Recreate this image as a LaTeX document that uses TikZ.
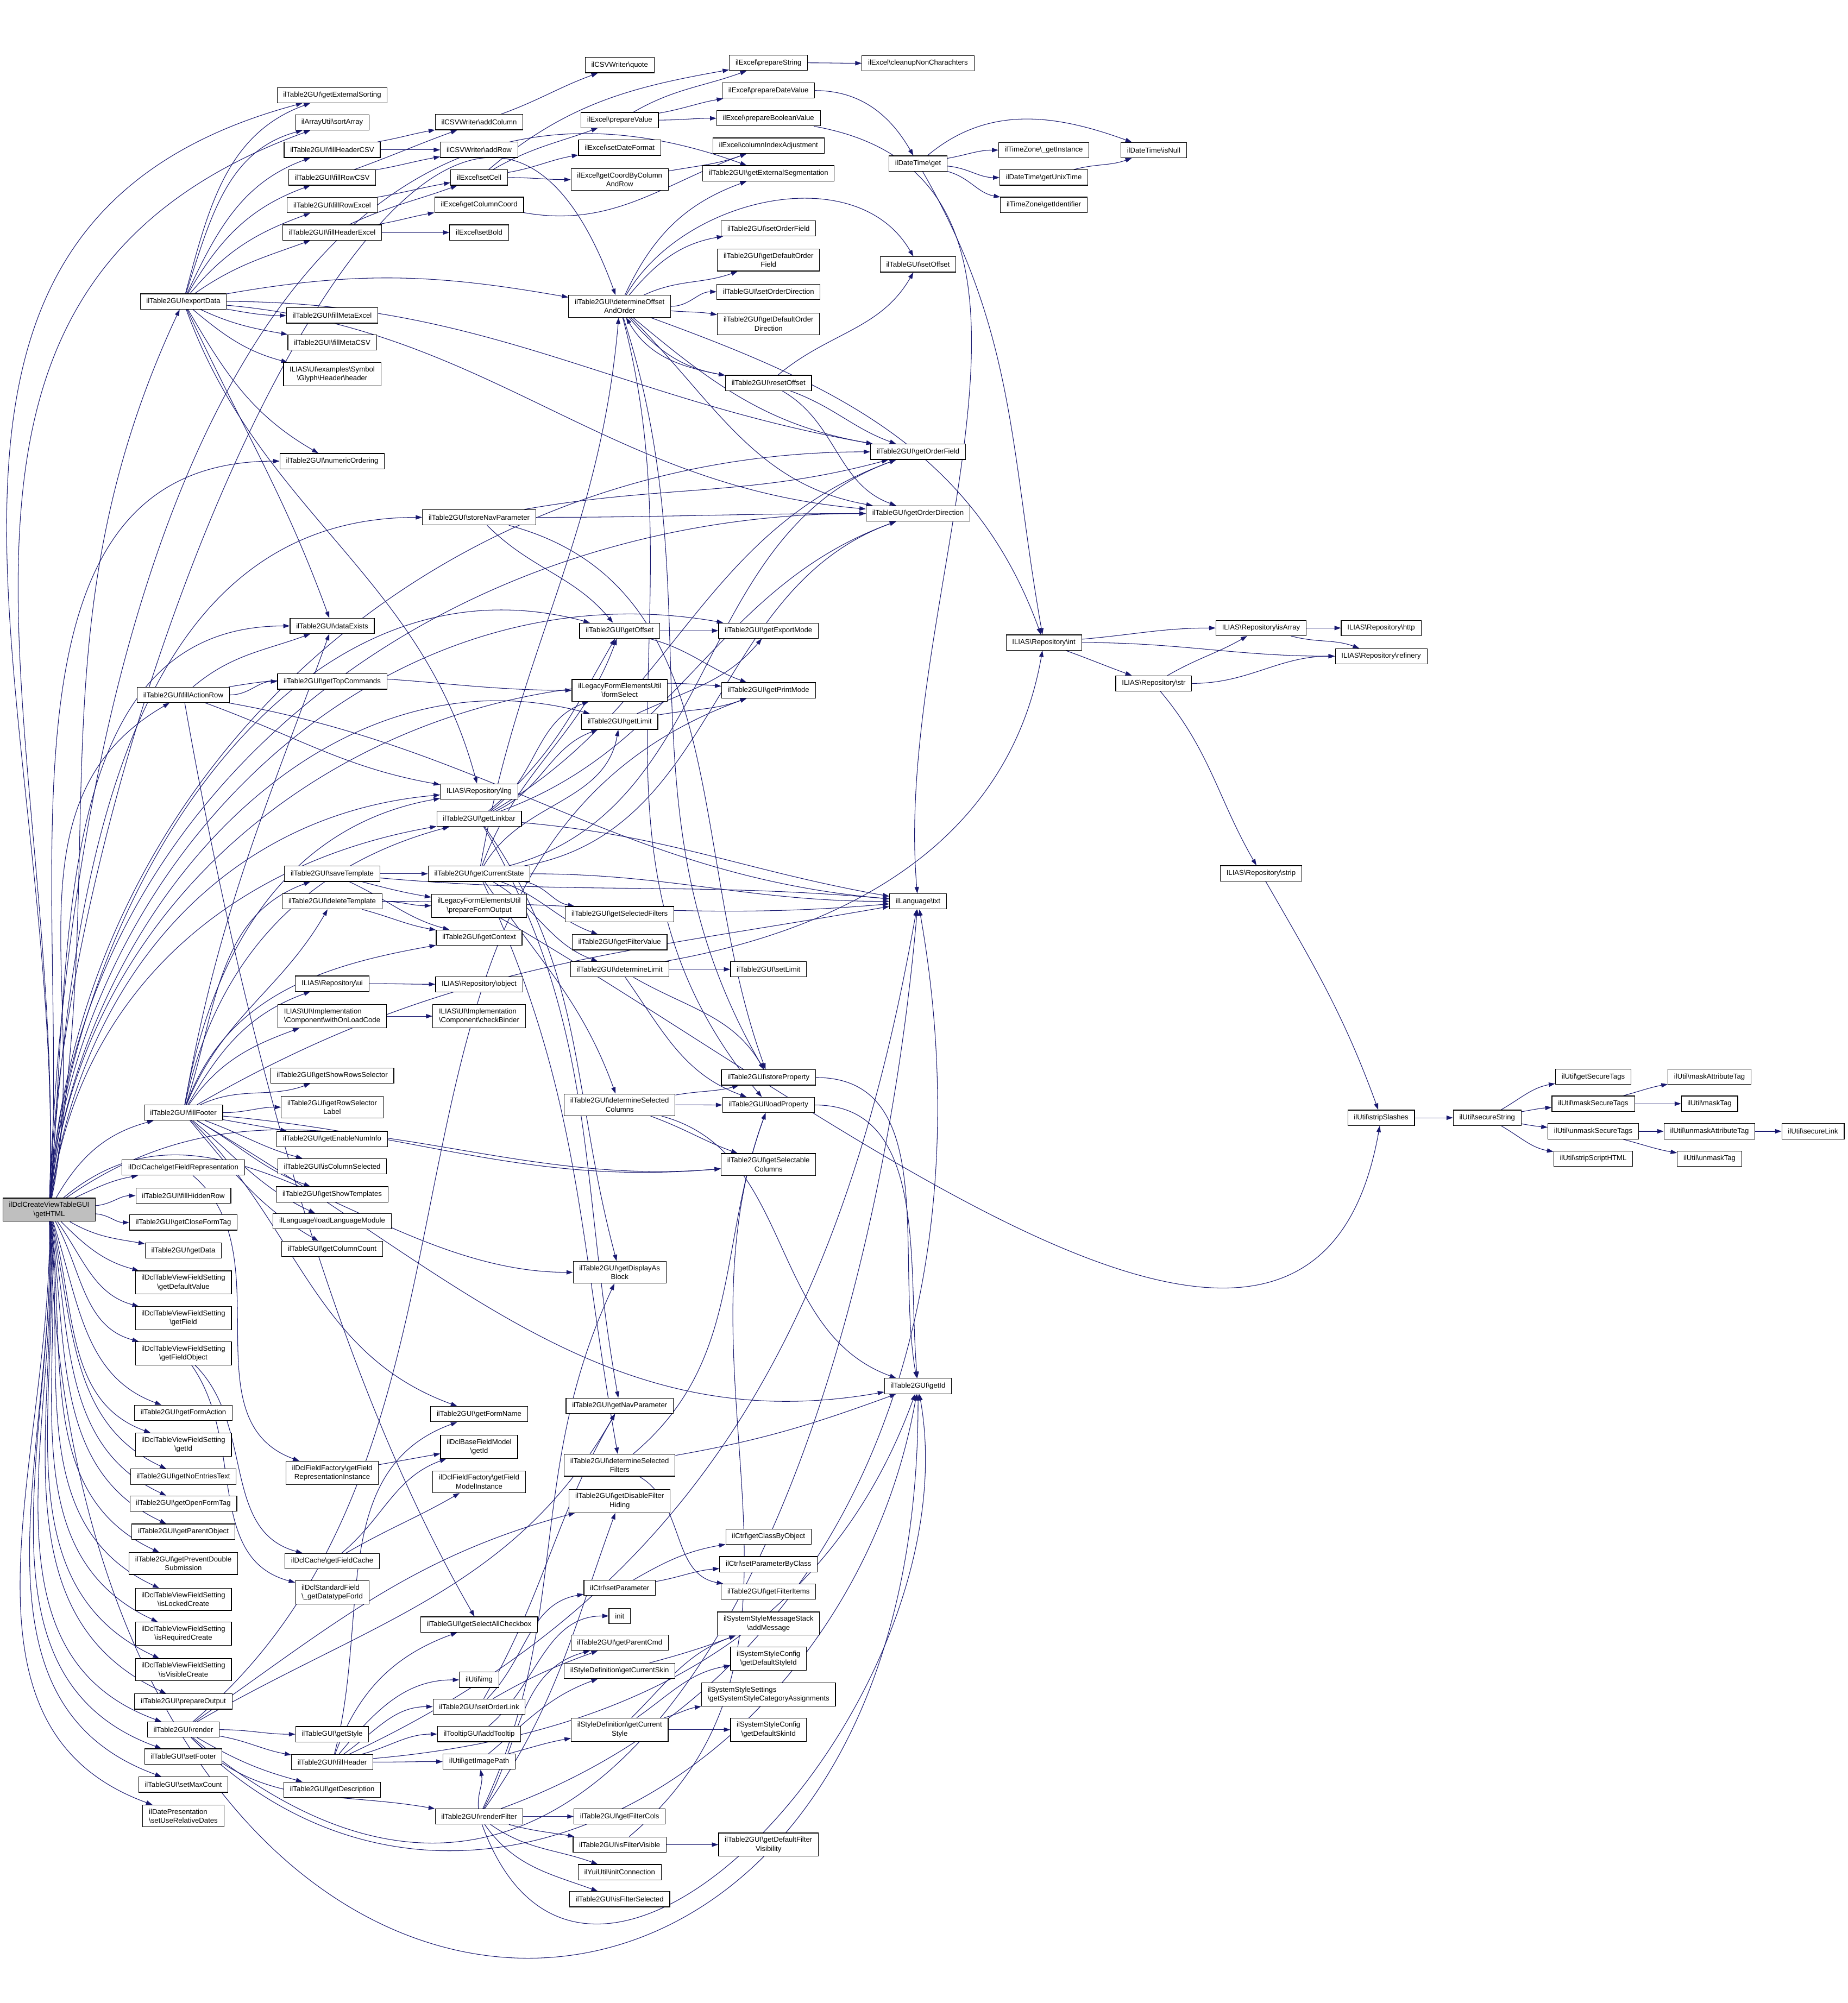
\documentclass[tikz,border=0pt]{standalone}
\usepackage{fontspec}
\setmainfont{Liberation Sans}
\usetikzlibrary{arrows.meta}
\pgfdeclarelayer{background}
\pgfsetlayers{background,main}
\definecolor{linkblue}{HTML}{191970}
\newcommand{\nsep}{\textbackslash}
\tikzset{
  fn/.style={draw=black, line width=0.5pt, fill=white, inner xsep=4.8pt, inner ysep=3pt,
    minimum height=12pt, align=center, font=\fontsize{5.6}{7}\selectfont},
  fnleft/.style={fn, align=left},
  mainfn/.style={fn, fill=black!25},
  calls/.style={draw=linkblue, line width=0.45pt, -{Triangle[length=5pt,width=3.4pt]}, out=0, in=180},
}

\begin{document}
\begin{tikzpicture}[x=1pt, y=1pt]
  \useasboundingbox (0,0) rectangle (1446,-1568);
  % caller
  \node[mainfn] (G) at (38.5,-947) {ilDclCreateViewTableGUI\\\nsep getHTML};
  % first rank
  \node[fn] (expD) at (143.5,-236) {ilTable2GUI\nsep exportData};
  \node[fn] (fAR) at (143.5,-544) {ilTable2GUI\nsep fillActionRow};
  \node[fn] (fFoot) at (143.5,-871) {ilTable2GUI\nsep fillFooter};
  \node[fn] (gFRep) at (143.5,-914) {ilDclCache\nsep getFieldRepresentation};
  \node[fn] (fHid) at (143.5,-936) {ilTable2GUI\nsep fillHiddenRow};
  \node[fn] (gClose) at (143.5,-957) {ilTable2GUI\nsep getCloseFormTag};
  \node[fn] (gData) at (143.5,-979) {ilTable2GUI\nsep getData};
  \node[fn] (gDefV) at (143.5,-1004) {ilDclTableViewFieldSetting\\\nsep getDefaultValue};
  \node[fn] (gField) at (143.5,-1032) {ilDclTableViewFieldSetting\\\nsep getField};
  \node[fn] (gFObj) at (143.5,-1059.5) {ilDclTableViewFieldSetting\\\nsep getFieldObject};
  \node[fn] (gFAct) at (143.5,-1106) {ilTable2GUI\nsep getFormAction};
  \node[fn] (gIdD) at (143.5,-1131) {ilDclTableViewFieldSetting\\\nsep getId};
  \node[fn] (gNoE) at (143.5,-1156) {ilTable2GUI\nsep getNoEntriesText};
  \node[fn] (gOpen) at (143.5,-1177) {ilTable2GUI\nsep getOpenFormTag};
  \node[fn] (gPObj) at (143.5,-1199) {ilTable2GUI\nsep getParentObject};
  \node[fn] (gPDS) at (143.5,-1224) {ilTable2GUI\nsep getPreventDouble\\Submission};
  \node[fn] (isLock) at (143.5,-1252) {ilDclTableViewFieldSetting\\\nsep isLockedCreate};
  \node[fn] (isReq) at (143.5,-1279) {ilDclTableViewFieldSetting\\\nsep isRequiredCreate};
  \node[fn] (isVis) at (143.5,-1307) {ilDclTableViewFieldSetting\\\nsep isVisibleCreate};
  \node[fn] (prepOut) at (143.5,-1332) {ilTable2GUI\nsep prepareOutput};
  \node[fn] (render) at (143.5,-1354) {ilTable2GUI\nsep render};
  \node[fn] (setFoot) at (143.5,-1375) {ilTableGUI\nsep setFooter};
  \node[fn] (setMax) at (143.5,-1397) {ilTableGUI\nsep setMaxCount};
  \node[fnleft] (setURD) at (143.5,-1421.6) {ilDatePresentation\\\nsep setUseRelativeDates};
  % second rank
  \node[fn] (gExtSort) at (260,-74.5) {ilTable2GUI\nsep getExternalSorting};
  \node[fn] (sortArr) at (260,-95.8) {ilArrayUtil\nsep sortArray};
  \node[fn] (fHCSV) at (260,-117.3) {ilTable2GUI\nsep fillHeaderCSV};
  \node[fn] (fRCSV) at (260,-139) {ilTable2GUI\nsep fillRowCSV};
  \node[fn] (fRXls) at (260,-160.6) {ilTable2GUI\nsep fillRowExcel};
  \node[fn] (fHXls) at (260,-182) {ilTable2GUI\nsep fillHeaderExcel};
  \node[fn] (fMXls) at (260,-247) {ilTable2GUI\nsep fillMetaExcel};
  \node[fn] (fMCSV) at (260,-268) {ilTable2GUI\nsep fillMetaCSV};
  \node[fn] (glyph) at (260,-293) {ILIAS\nsep UI\nsep examples\nsep Symbol\\\nsep Glyph\nsep Header\nsep header};
  \node[fn] (numOrd) at (260,-361) {ilTable2GUI\nsep numericOrdering};
  \node[fn] (dataEx) at (260,-490) {ilTable2GUI\nsep dataExists};
  \node[fn] (gTopC) at (260,-533.5) {ilTable2GUI\nsep getTopCommands};
  \node[fn] (saveT) at (260,-684) {ilTable2GUI\nsep saveTemplate};
  \node[fn] (delT) at (260,-705.6) {ilTable2GUI\nsep deleteTemplate};
  \node[fn] (repUi) at (260,-770) {ILIAS\nsep Repository\nsep ui};
  \node[fnleft] (withOLC) at (260,-795.5) {ILIAS\nsep UI\nsep Implementation\\\nsep Component\nsep withOnLoadCode};
  \node[fn] (gSRS) at (260,-842) {ilTable2GUI\nsep getShowRowsSelector};
  \node[fn] (gRSL) at (260,-866.7) {ilTable2GUI\nsep getRowSelector\\Label};
  \node[fn] (gENI) at (260,-891.6) {ilTable2GUI\nsep getEnableNumInfo};
  \node[fn] (isColS) at (260,-913) {ilTable2GUI\nsep isColumnSelected};
  \node[fn] (gShowT) at (260,-935) {ilTable2GUI\nsep getShowTemplates};
  \node[fn] (loadLM) at (260,-956) {ilLanguage\nsep loadLanguageModule};
  \node[fn] (gColC) at (260,-977.7) {ilTableGUI\nsep getColumnCount};
  \node[fn] (gFRI) at (260,-1153) {ilDclFieldFactory\nsep getField\\RepresentationInstance};
  \node[fn] (gFC) at (260,-1222) {ilDclCache\nsep getFieldCache};
  \node[fnleft] (gDTF) at (260,-1246.6) {ilDclStandardField\\\nsep\_getDatatypeForId};
  \node[fn] (gStyle) at (260,-1357.6) {ilTableGUI\nsep getStyle};
  \node[fn] (fHead) at (260,-1379.4) {ilTable2GUI\nsep fillHeader};
  \node[fn] (gDesc) at (260,-1401) {ilTable2GUI\nsep getDescription};
  % third rank
  \node[fn] (addCol) at (375,-95.6) {ilCSVWriter\nsep addColumn};
  \node[fn] (addRow) at (375,-117.3) {ilCSVWriter\nsep addRow};
  \node[fn] (setCell) at (375,-139) {ilExcel\nsep setCell};
  \node[fn] (gColCoord) at (375,-160.3) {ilExcel\nsep getColumnCoord};
  \node[fn] (setBold) at (375,-182) {ilExcel\nsep setBold};
  \node[fn] (storeNav) at (375,-405) {ilTable2GUI\nsep storeNavParameter};
  \node[fn] (lng) at (375,-619.6) {ILIAS\nsep Repository\nsep lng};
  \node[fn] (gLink) at (375,-641) {ilTable2GUI\nsep getLinkbar};
  \node[fn] (gCurS) at (375,-684) {ilTable2GUI\nsep getCurrentState};
  \node[fn] (prepFO) at (375,-709) {ilLegacyFormElementsUtil\\\nsep prepareFormOutput};
  \node[fn] (gCtx) at (375,-734) {ilTable2GUI\nsep getContext};
  \node[fn] (repObj) at (375,-770.5) {ILIAS\nsep Repository\nsep object};
  \node[fnleft] (chkB) at (375,-795.5) {ILIAS\nsep UI\nsep Implementation\\\nsep Component\nsep checkBinder};
  \node[fn] (gFName) at (375,-1107) {ilTable2GUI\nsep getFormName};
  \node[fn] (gIdBF) at (375,-1132.6) {ilDclBaseFieldModel\\\nsep getId};
  \node[fn] (gFMI) at (375,-1160) {ilDclFieldFactory\nsep getField\\ModelInstance};
  \node[fn] (gSAC) at (375,-1271.7) {ilTableGUI\nsep getSelectAllCheckbox};
  \node[fn] (img) at (375,-1315) {ilUtil\nsep img};
  \node[fn] (setOL) at (375,-1336) {ilTable2GUI\nsep setOrderLink};
  \node[fn] (addTT) at (375,-1357.5) {ilTooltipGUI\nsep addTooltip};
  \node[fn] (gImgP) at (375,-1379) {ilUtil\nsep getImagePath};
  \node[fn] (rendF) at (375,-1422) {ilTable2GUI\nsep renderFilter};
  % fourth rank
  \node[fn] (quote) at (485,-51) {ilCSVWriter\nsep quote};
  \node[fn] (prepVal) at (485,-94) {ilExcel\nsep prepareValue};
  \node[fn] (setDF) at (485,-115.6) {ilExcel\nsep setDateFormat};
  \node[fn] (gCBCR) at (485,-140.6) {ilExcel\nsep getCoordByColumn\\AndRow};
  \node[fn] (dOAO) at (485,-239.8) {ilTable2GUI\nsep determineOffset\\AndOrder};
  \node[fn] (gOff) at (485,-493.7) {ilTable2GUI\nsep getOffset};
  \node[fn] (formSel) at (485,-540.4) {ilLegacyFormElementsUtil\\\nsep formSelect};
  \node[fn] (gLim) at (485,-565) {ilTable2GUI\nsep getLimit};
  \node[fn] (gSelF) at (485,-715.6) {ilTable2GUI\nsep getSelectedFilters};
  \node[fn] (gFVal) at (485,-737.6) {ilTable2GUI\nsep getFilterValue};
  \node[fn] (detLim) at (485,-758.8) {ilTable2GUI\nsep determineLimit};
  \node[fn] (detSC) at (485,-864.9) {ilTable2GUI\nsep determineSelected\\Columns};
  \node[fn] (gDAB) at (485,-996) {ilTable2GUI\nsep getDisplayAs\\Block};
  \node[fn] (gNavP) at (485,-1100.5) {ilTable2GUI\nsep getNavParameter};
  \node[fn] (detSF) at (485,-1147) {ilTable2GUI\nsep determineSelected\\Filters};
  \node[fn] (gDFH) at (485,-1175) {ilTable2GUI\nsep getDisableFilter\\Hiding};
  \node[fn] (setPar) at (485,-1243) {ilCtrl\nsep setParameter};
  \node[fn] (init) at (485,-1265) {init};
  \node[fn] (gPCmd) at (485,-1286) {ilTable2GUI\nsep getParentCmd};
  \node[fn] (gCSkin) at (485,-1308) {ilStyleDefinition\nsep getCurrentSkin};
  \node[fn] (gCStyle) at (485,-1354) {ilStyleDefinition\nsep getCurrent\\Style};
  \node[fn] (gFCols) at (485,-1422) {ilTable2GUI\nsep getFilterCols};
  \node[fn] (isFVis) at (485,-1444) {ilTable2GUI\nsep isFilterVisible};
  \node[fn] (yuiInit) at (485,-1465.6) {ilYuiUtil\nsep initConnection};
  \node[fn] (isFSel) at (485,-1486.7) {ilTable2GUI\nsep isFilterSelected};
  % fifth rank
  \node[fn] (prepStr) at (601.5,-49.2) {ilExcel\nsep prepareString};
  \node[fn] (prepDV) at (601.5,-70.9) {ilExcel\nsep prepareDateValue};
  \node[fn] (prepBV) at (601.5,-92.6) {ilExcel\nsep prepareBooleanValue};
  \node[fn] (colIA) at (601.5,-114) {ilExcel\nsep columnIndexAdjustment};
  \node[fn] (gExtSeg) at (601.5,-135.7) {ilTable2GUI\nsep getExternalSegmentation};
  \node[fn] (setOF) at (601.5,-178.7) {ilTable2GUI\nsep setOrderField};
  \node[fn] (gDOF) at (601.5,-203.6) {ilTable2GUI\nsep getDefaultOrder\\Field};
  \node[fn] (setOD) at (601.5,-228.4) {ilTableGUI\nsep setOrderDirection};
  \node[fn] (gDOD) at (601.5,-253.5) {ilTable2GUI\nsep getDefaultOrder\\Direction};
  \node[fn] (resetOff) at (601.5,-299.8) {ilTable2GUI\nsep resetOffset};
  \node[fn] (gExpM) at (601.5,-493.7) {ilTable2GUI\nsep getExportMode};
  \node[fn] (gPrM) at (601.5,-540.4) {ilTable2GUI\nsep getPrintMode};
  \node[fn] (setLim) at (601.5,-758.8) {ilTable2GUI\nsep setLimit};
  \node[fn] (storeP) at (601.5,-843.5) {ilTable2GUI\nsep storeProperty};
  \node[fn] (loadP) at (601.5,-865) {ilTable2GUI\nsep loadProperty};
  \node[fn] (gSelC) at (601.5,-911.6) {ilTable2GUI\nsep getSelectable\\Columns};
  \node[fn] (gCBO) at (601.5,-1203) {ilCtrl\nsep getClassByObject};
  \node[fn] (setPBC) at (601.5,-1224.5) {ilCtrl\nsep setParameterByClass};
  \node[fn] (gFItems) at (601.5,-1246) {ilTable2GUI\nsep getFilterItems};
  \node[fn] (addMsg) at (601.5,-1271) {ilSystemStyleMessageStack\\\nsep addMessage};
  \node[fn] (gDSI) at (601.5,-1298.5) {ilSystemStyleConfig\\\nsep getDefaultStyleId};
  \node[fnleft] (gSSCA) at (601.5,-1326.5) {ilSystemStyleSettings\\\nsep getSystemStyleCategoryAssignments};
  \node[fn] (gDSkI) at (601.5,-1354) {ilSystemStyleConfig\\\nsep getDefaultSkinId};
  \node[fn] (gDFV) at (601.5,-1444) {ilTable2GUI\nsep getDefaultFilter\\Visibility};
  % sixth rank
  \node[fn] (cleanup) at (718.5,-49.5) {ilExcel\nsep cleanupNonCharachters};
  \node[fn] (dtGet) at (718.5,-128) {ilDateTime\nsep get};
  \node[fn] (setOff) at (718.5,-207) {ilTableGUI\nsep setOffset};
  \node[fn] (gOF) at (718.5,-353.7) {ilTable2GUI\nsep getOrderField};
  \node[fn] (gOD) at (718.5,-402) {ilTableGUI\nsep getOrderDirection};
  \node[fn] (txt) at (718.5,-705.6) {ilLanguage\nsep txt};
  \node[fn] (gIdT) at (718.5,-1085) {ilTable2GUI\nsep getId};
  % further ranks
  \node[fn] (tzInst) at (817,-117.5) {ilTimeZone\nsep\_getInstance};
  \node[fn] (getUnix) at (817,-139) {ilDateTime\nsep getUnixTime};
  \node[fn] (tzId) at (817,-160.3) {ilTimeZone\nsep getIdentifier};
  \node[fn] (repInt) at (817,-503) {ILIAS\nsep Repository\nsep int};
  \node[fn] (isNull) at (903,-117.5) {ilDateTime\nsep isNull};
  \node[fn] (repStr) at (903,-535) {ILIAS\nsep Repository\nsep str};
  \node[fn] (isArr) at (987,-491.6) {ILIAS\nsep Repository\nsep isArray};
  \node[fn] (repStrip) at (987,-683.7) {ILIAS\nsep Repository\nsep strip};
  \node[fn] (http) at (1081,-491.6) {ILIAS\nsep Repository\nsep http};
  \node[fn] (refin) at (1081,-513.7) {ILIAS\nsep Repository\nsep refinery};
  \node[fn] (stripSl) at (1081,-875) {ilUtil\nsep stripSlashes};
  \node[fn] (secStr) at (1164,-875) {ilUtil\nsep secureString};
  \node[fn] (gSecT) at (1247,-843) {ilUtil\nsep getSecureTags};
  \node[fn] (maskST) at (1247,-864) {ilUtil\nsep maskSecureTags};
  \node[fn] (unmaskST) at (1247,-885.6) {ilUtil\nsep unmaskSecureTags};
  \node[fn] (stripSH) at (1247,-907) {ilUtil\nsep stripScriptHTML};
  \node[fn] (maskAT) at (1338,-843) {ilUtil\nsep maskAttributeTag};
  \node[fn] (maskT) at (1338,-864) {ilUtil\nsep maskTag};
  \node[fn] (unmaskAT) at (1338,-885.6) {ilUtil\nsep unmaskAttributeTag};
  \node[fn] (unmaskT) at (1338,-907) {ilUtil\nsep unmaskTag};
  \node[fn] (secLink) at (1419,-885.6) {ilUtil\nsep secureLink};

  \begin{pgfonlayer}{background}
  % calls from getHTML
  \draw[calls] (G) to[out=80,in=-115] (expD);
  \draw[calls] (G) to[out=78,in=-150] (fAR);
  \draw[calls] (G) to[out=60,in=-165] (fFoot);
  \draw[calls] (G) to[out=25,in=-170] (gFRep);
  \draw[calls] (G) to[out=5,in=180] (fHid);
  \draw[calls] (G) to[out=-5,in=180] (gClose);
  \draw[calls] (G) to[out=-30,in=170] (gData);
  \draw[calls] (G) to[out=-45,in=165] (gDefV);
  \draw[calls] (G) to[out=-55,in=165] (gField);
  \draw[calls] (G) to[out=-62,in=165] (gFObj);
  \draw[calls] (G) to[out=-72,in=160] (gFAct);
  \draw[calls] (G) to[out=-75,in=160] (gIdD);
  \draw[calls] (G) to[out=-78,in=155] (gNoE);
  \draw[calls] (G) to[out=-80,in=155] (gOpen);
  \draw[calls] (G) to[out=-82,in=155] (gPObj);
  \draw[calls] (G) to[out=-83,in=155] (gPDS);
  \draw[calls] (G) to[out=-84,in=155] (isLock);
  \draw[calls] (G) to[out=-85,in=155] (isReq);
  \draw[calls] (G) to[out=-86,in=155] (isVis);
  \draw[calls] (G) to[out=-87,in=155] (prepOut);
  \draw[calls] (G) to[out=-87,in=160] (render);
  \draw[calls] (G) to[out=-88,in=160] (setFoot);
  \draw[calls] (G) to[out=-88,in=160] (setMax);
  \draw[calls] (G) to[out=-89,in=160] (setURD);
  \draw[calls] (G) to[out=88,in=160,looseness=1.1] (gExtSeg);
  \draw[calls] (G) to[out=88,in=110,looseness=1.2] (dOAO);
  \draw[calls] (G) to[out=88,in=195,looseness=1.1] (gExtSort);
  \draw[calls] (G) to[out=88,in=200,looseness=1.1] (sortArr);
  \draw[calls] (G) to[out=86,in=180] (numOrd);
  \draw[calls] (G) to[out=86,in=180] (storeNav);
  \draw[calls] (G) to[out=86,in=180] (gOF);
  \draw[calls] (G) to[out=86,in=180] (gOD);
  \draw[calls] (G) to[out=85,in=165] (gOff);
  \draw[calls] (G) to[out=85,in=170] (gExpM);
  \draw[calls] (G) to[out=85,in=180] (dataEx);
  \draw[calls] (G) to[out=84,in=165] (gLim);
  \draw[calls] (G) to[out=84,in=175] (gPrM);
  \draw[calls] (G) to[out=82,in=185] (lng);
  \draw[calls] (G) to[out=82,in=190] (gLink);
  \draw[calls] (G) to[out=40,in=180] (gDAB);
  \draw[calls] (G) to[out=35,in=185] (gSelC);
  \draw[calls] (G) .. controls (60,-1700) and (720,-1700) .. (gIdT);
  % export
  \draw[calls] (expD) to[out=75,in=200] (gExtSort);
  \draw[calls] (expD) to[out=72,in=195] (sortArr);
  \draw[calls] (expD) to[out=65,in=200] (fHCSV);
  \draw[calls] (expD) to[out=60,in=200] (fRCSV);
  \draw[calls] (expD) to[out=50,in=200] (fRXls);
  \draw[calls] (expD) to[out=35,in=200] (fHXls);
  \draw[calls] (expD) to[out=10,in=170] (dOAO);
  \draw[calls] (expD) to[out=0,in=170] (gOF);
  \draw[calls] (expD) to[out=-5,in=175] (gOD);
  \draw[calls] (expD) to[out=-10,in=180] (fMXls);
  \draw[calls] (expD) to[out=-25,in=170] (fMCSV);
  \draw[calls] (expD) to[out=-40,in=165] (glyph);
  \draw[calls] (expD) to[out=-60,in=150] (numOrd);
  \draw[calls] (expD) to[out=-65,in=110] (dataEx);
  \draw[calls] (expD) to[out=-70,in=105] (lng);
  \draw[calls] (fHCSV) to[out=10,in=190] (addCol);
  \draw[calls] (fHCSV) to (addRow);
  \draw[calls] (fRCSV) to[out=20,in=200] (addCol);
  \draw[calls] (fRCSV) to[out=10,in=190] (addRow);
  \draw[calls] (fRXls) to[out=10,in=190] (setCell);
  \draw[calls] (fHXls) to[out=25,in=200] (setCell);
  \draw[calls] (fHXls) to[out=10,in=190] (gColCoord);
  \draw[calls] (fHXls) to (setBold);
  \draw[calls] (addCol) to[out=20,in=200] (quote);
  \draw[calls] (setCell) to[out=30,in=200] (prepVal);
  \draw[calls] (setCell) to[out=10,in=190] (setDF);
  \draw[calls] (setCell) to (gCBCR);
  \draw[calls] (setCell) to[out=40,in=190] (prepStr);
  \draw[calls] (prepVal) to[out=30,in=200] (prepStr);
  \draw[calls] (prepVal) to[out=10,in=190] (prepDV);
  \draw[calls] (prepVal) to (prepBV);
  \draw[calls] (gCBCR) to[out=10,in=200] (colIA);
  \draw[calls] (gColCoord) to[out=-10,in=200] (colIA);
  \draw[calls] (prepStr) to (cleanup);
  \draw[calls] (prepDV) to[out=0,in=120] (dtGet);
  \draw[calls] (prepBV) to[out=-10,in=95] (txt);
  \draw[calls] (dtGet) to[out=10,in=180] (tzInst);
  \draw[calls] (dtGet) to[out=-5,in=180] (getUnix);
  \draw[calls] (dtGet) to[out=-15,in=170] (tzId);
  \draw[calls] (dtGet) to[out=40,in=160] (isNull);
  \draw[calls] (dtGet) to[out=-60,in=100] (repInt);
  \draw[calls] (getUnix) to[out=15,in=200] (isNull);
  % offset and order
  \draw[calls] (dOAO) to[out=65,in=200] (gExtSeg);
  \draw[calls] (dOAO) to[out=50,in=190] (setOF);
  \draw[calls] (dOAO) to[out=25,in=200] (gDOF);
  \draw[calls] (dOAO) to (setOD);
  \draw[calls] (dOAO) to[out=-5,in=170] (gDOD);
  \draw[calls] (dOAO) to[out=-50,in=170] (resetOff);
  \draw[calls] (dOAO) to[out=60,in=120] (setOff);
  \draw[calls] (dOAO) to[out=-40,in=170] (gOF);
  \draw[calls] (dOAO) to[out=-45,in=170] (gOD);
  \draw[calls] (dOAO) to[out=-75,in=130] (loadP);
  \draw[calls] (dOAO) to[out=-72,in=120] (storeP);
  \draw[calls] (dOAO) to[out=-20,in=110] (repInt);
  \draw[calls] (resetOff) to[out=40,in=-120] (setOff);
  \draw[calls] (resetOff) to[out=-20,in=160] (gOF);
  \draw[calls] (resetOff) to[out=-30,in=160] (gOD);
  \draw[calls] (resetOff) to[out=170,in=-60] (dOAO);
  \draw[calls] (storeNav) to[out=10,in=195] (gOF);
  \draw[calls] (storeNav) to (gOD);
  \draw[calls] (storeNav) to[out=-45,in=130] (gOff);
  \draw[calls] (storeNav) to[out=-15,in=110] (storeP);
  \draw[calls] (gOff) to (gExpM);
  \draw[calls] (gOff) to[out=-15,in=160] (gPrM);
  \draw[calls] (gLim) to[out=25,in=-130] (gExpM);
  \draw[calls] (gLim) to[out=10,in=200] (gPrM);
  % linkbar and state
  \draw[calls] (gLink) to[out=40,in=-120] (gOff);
  \draw[calls] (gLink) to[out=35,in=200] (formSel);
  \draw[calls] (gLink) to[out=25,in=200] (gLim);
  \draw[calls] (gLink) to[out=30,in=200] (gOF);
  \draw[calls] (gLink) to[out=20,in=200] (gOD);
  \draw[calls] (gLink) to[out=-5,in=170] (txt);
  \draw[calls] (gLink) to[out=-60,in=100] (gNavP);
  \draw[calls] (gLink) to[out=-55,in=105] (gDAB);
  \draw[calls] (gCurS) to[out=80,in=-95] (dOAO);
  \draw[calls] (gCurS) to[out=70,in=-110] (gOff);
  \draw[calls] (gCurS) to[out=60,in=-100] (gLim);
  \draw[calls] (gCurS) to[out=15,in=200] (gOF);
  \draw[calls] (gCurS) to[out=10,in=200] (gOD);
  \draw[calls] (gCurS) to[out=-10,in=170] (gSelF);
  \draw[calls] (gCurS) to[out=-20,in=160] (gFVal);
  \draw[calls] (gCurS) to[out=-30,in=160] (detLim);
  \draw[calls] (gCurS) to[out=-55,in=110] (detSC);
  \draw[calls] (gCurS) to[out=-65,in=100] (detSF);
  \draw[calls] (gCurS) to (txt);
  \draw[calls] (saveT) to (gCurS);
  \draw[calls] (saveT) to[out=-15,in=170] (prepFO);
  \draw[calls] (saveT) to[out=-25,in=165] (gCtx);
  \draw[calls] (saveT) to[out=-5,in=175] (txt);
  \draw[calls] (delT) to (prepFO);
  \draw[calls] (delT) to[out=-15,in=170] (gCtx);
  \draw[calls] (delT) to[out=0,in=185] (txt);
  \draw[calls] (repUi) to (repObj);
  \draw[calls] (withOLC) to (chkB);
  % action row and footer
  \draw[calls] (fAR) to[out=40,in=200] (dataEx);
  \draw[calls] (fAR) to (gTopC);
  \draw[calls] (fAR) to[out=10,in=180] (formSel);
  \draw[calls] (fAR) to[out=-10,in=175] (txt);
  \draw[calls] (fAR) to[out=-80,in=120,looseness=0.8] (gSAC);
  \draw[calls] (fAR) to[out=-20,in=170] (lng);
  \draw[calls] (fFoot) to[out=72,in=200] (saveT);
  \draw[calls] (fFoot) to[out=68,in=-120] (delT);
  \draw[calls] (fFoot) to[out=60,in=200] (repUi);
  \draw[calls] (fFoot) to[out=55,in=200] (withOLC);
  \draw[calls] (fFoot) to[out=25,in=200] (gSRS);
  \draw[calls] (fFoot) to (gRSL);
  \draw[calls] (fFoot) to[out=-10,in=170] (gENI);
  \draw[calls] (fFoot) to[out=-20,in=165] (isColS);
  \draw[calls] (fFoot) to[out=-30,in=160] (gShowT);
  \draw[calls] (fFoot) to[out=-40,in=155] (loadLM);
  \draw[calls] (fFoot) to[out=-50,in=150] (gColC);
  \draw[calls] (fFoot) to[out=80,in=-110] (dataEx);
  \draw[calls] (fFoot) to[out=80,in=190] (lng);
  \draw[calls] (fFoot) to[out=78,in=195] (gLink);
  \draw[calls] (fFoot) to[out=70,in=190] (gCtx);
  \draw[calls] (fFoot) to[out=30,in=190] (txt);
  \draw[calls] (fFoot) to[out=-5,in=185] (gSelC);
  \draw[calls] (fFoot) to[out=-45,in=160] (gFName);
  \draw[calls] (fFoot) to[out=-30,in=190] (gIdT);
  % data collection fields
  \draw[calls] (gFRep) to[out=-40,in=160] (gFRI);
  \draw[calls] (gFObj) to[out=-45,in=165] (gFC);
  \draw[calls] (gFObj) to[out=-55,in=165] (gDTF);
  \draw[calls] (gFRI) to[out=10,in=190] (gIdBF);
  \draw[calls] (gFC) to[out=40,in=200] (gIdBF);
  \draw[calls] (gFC) to[out=30,in=-150] (gFMI);
  % render
  \draw[calls] (render) to (gStyle);
  \draw[calls] (render) to[out=-10,in=170] (fHead);
  \draw[calls] (render) to[out=-30,in=165] (gDesc);
  \draw[calls] (render) to[out=-45,in=170] (rendF);
  \draw[calls] (render) to[out=35,in=195] (gDFH);
  \draw[calls] (render) to[out=30,in=-120] (gNavP);
  \draw[calls] (render) to[out=40,in=200] (gPrM);
  \draw[calls] (render) to[out=-40,in=-95,looseness=1.3] (txt);
  \draw[calls] (render) to[out=-45,in=-100,looseness=1.2] (gIdT);
  \draw[calls] (fHead) to[out=50,in=180] (img);
  \draw[calls] (fHead) to[out=35,in=180] (setOL);
  \draw[calls] (fHead) to[out=15,in=180] (addTT);
  \draw[calls] (fHead) to (gImgP);
  \draw[calls] (fHead) to[out=70,in=200] (gSAC);
  \draw[calls] (fHead) to[out=75,in=200] (gFName);
  \draw[calls] (fHead) to[out=25,in=-100] (txt);
  \draw[calls] (fHead) to[out=5,in=-110] (gIdT);
  \draw[calls] (rendF) to (gFCols);
  \draw[calls] (rendF) to[out=-15,in=170] (isFVis);
  \draw[calls] (rendF) to[out=-35,in=160] (yuiInit);
  \draw[calls] (rendF) to[out=-55,in=160] (isFSel);
  \draw[calls] (rendF) to[out=55,in=-110] (gDFH);
  \draw[calls] (rendF) to[out=95,in=-80] (gImgP);
  \draw[calls] (rendF) to[out=60,in=195] (gPCmd);
  \draw[calls] (rendF) to[out=65,in=-115] (gDAB);
  \draw[calls] (rendF) to[out=20,in=-80] (txt);
  \draw[calls] (rendF) to[out=-70,in=-80,looseness=1.3] (gIdT);
  \draw[calls] (setOL) to[out=60,in=-120] (gNavP);
  \draw[calls] (setOL) to[out=45,in=190] (setPar);
  \draw[calls] (setOL) to[out=30,in=200] (gPCmd);
  \draw[calls] (addTT) to[out=40,in=180] (init);
  \draw[calls] (gImgP) to[out=40,in=200] (gCSkin);
  \draw[calls] (gImgP) to[out=15,in=190] (gCStyle);
  \draw[calls] (gCStyle) to[out=45,in=200] (addMsg);
  \draw[calls] (gCStyle) to[out=35,in=190] (gDSI);
  \draw[calls] (gCStyle) to[out=15,in=190] (gSSCA);
  \draw[calls] (gCStyle) to (gDSkI);
  \draw[calls] (gCSkin) to[out=15,in=200] (addMsg);
  \draw[calls] (setPar) to[out=30,in=190] (gCBO);
  \draw[calls] (setPar) to[out=10,in=185] (setPBC);
  \draw[calls] (isFVis) to (gDFV);
  \draw[calls] (isFVis) to[out=40,in=-110] (loadP);
  % properties
  \draw[calls] (detLim) to (setLim);
  \draw[calls] (detLim) to[out=-30,in=120] (storeP);
  \draw[calls] (detLim) to[out=-55,in=160] (loadP);
  \draw[calls] (detLim) to[out=10,in=-100] (repInt);
  \draw[calls] (detSC) to[out=10,in=195] (storeP);
  \draw[calls] (detSC) to (loadP);
  \draw[calls] (detSC) to[out=-20,in=160] (gSelC);
  \draw[calls] (detSC) to[out=-15,in=160] (gIdT);
  \draw[calls] (detSF) to[out=40,in=-110] (loadP);
  \draw[calls] (detSF) to[out=-30,in=170] (gFItems);
  \draw[calls] (detSF) to[out=10,in=200] (gIdT);
  \draw[calls] (storeP) to[out=0,in=100] (gIdT);
  \draw[calls] (loadP) to[out=0,in=95] (gIdT);
  % repository and string helpers
  \draw[calls] (prepFO) to[out=-30,in=-100,looseness=1.1] (stripSl);
  \draw[calls] (repInt) to[out=5,in=180] (isArr);
  \draw[calls] (repInt) to (refin);
  \draw[calls] (repInt) to[out=-20,in=160] (repStr);
  \draw[calls] (repStr) to[out=30,in=-150] (isArr);
  \draw[calls] (repStr) to (refin);
  \draw[calls] (repStr) to[out=-50,in=120] (repStrip);
  \draw[calls] (isArr) to (http);
  \draw[calls] (isArr) to[out=-15,in=160] (refin);
  \draw[calls] (repStrip) to[out=-60,in=110] (stripSl);
  \draw[calls] (stripSl) to (secStr);
  \draw[calls] (secStr) to[out=30,in=190] (gSecT);
  \draw[calls] (secStr) to[out=10,in=185] (maskST);
  \draw[calls] (secStr) to[out=-10,in=175] (unmaskST);
  \draw[calls] (secStr) to[out=-30,in=170] (stripSH);
  \draw[calls] (maskST) to[out=15,in=190] (maskAT);
  \draw[calls] (maskST) to (maskT);
  \draw[calls] (unmaskST) to (unmaskAT);
  \draw[calls] (unmaskST) to[out=-15,in=170] (unmaskT);
  \draw[calls] (unmaskAT) to (secLink);
  \end{pgfonlayer}
\end{tikzpicture}
\end{document}
